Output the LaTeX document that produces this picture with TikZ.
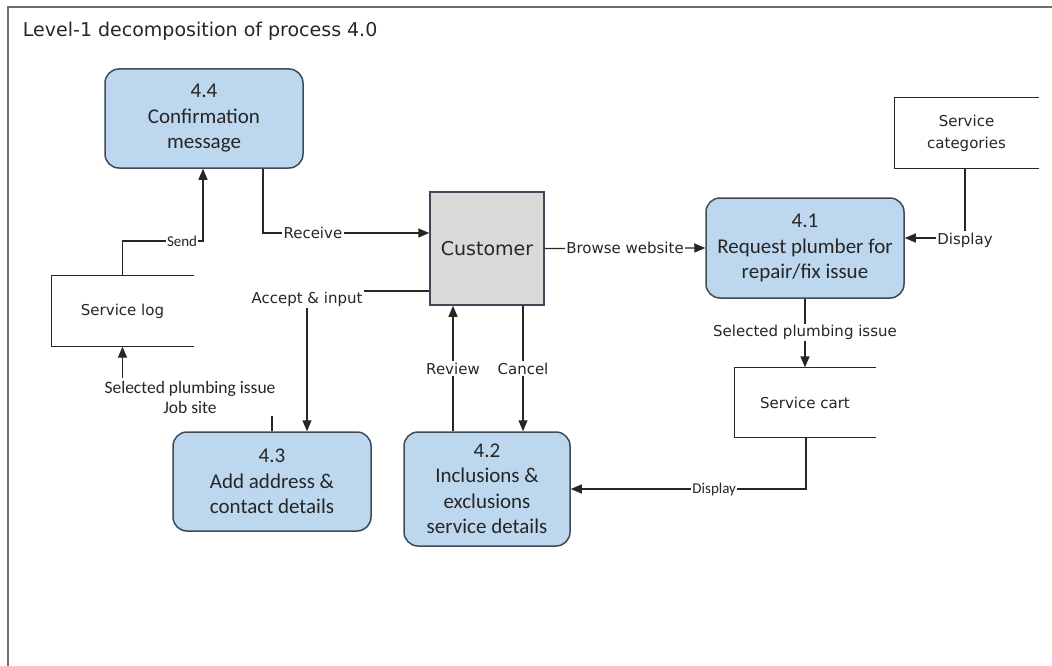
\documentclass[tikz,border=0pt]{standalone}
\usepackage{fontspec}
\setmainfont{DejaVu Sans}
\newfontfamily\calib{Carlito}
\usetikzlibrary{arrows.meta}

\definecolor{procfill}{HTML}{BDD7EE}
\definecolor{procline}{HTML}{3E4A56}
\definecolor{custfill}{HTML}{D9D9D9}
\definecolor{ink}{HTML}{262626}
\definecolor{framecol}{HTML}{6E6E6E}

\begin{document}
\begin{tikzpicture}[x=1pt, y=-1pt, line width=1.3pt, draw=ink, text=ink,
  proc/.style = {draw=procline, fill=procfill, rounded corners=14pt, align=center, line width=1.5pt,
    font=\calib\fontsize{21}{25.5}\selectfont, minimum width=198pt, minimum height=99pt, inner sep=0pt},
  ext/.style = {draw=procline, fill=custfill, font=\fontsize{19}{21}\selectfont, line width=1.5pt,
    minimum width=114pt, minimum height=113pt, inner sep=0pt},
  store/.style = {align=center, font=\fontsize{15}{22}\selectfont, inner sep=0pt},
  flow/.style = {-{Triangle[length=11pt,width=9pt]}, draw=ink},
  lbl/.style = {fill=white, inner sep=1.5pt, font=\fontsize{15}{18}\selectfont},
  smalllbl/.style = {fill=white, inner sep=1pt, font=\calib\fontsize{15}{18}\selectfont}]
    \useasboundingbox (0,0) rectangle (1052,666);
    % outer frame and heading
    \draw[framecol, line width=1.6pt] (8,666) -- (8,7) -- (1052,7);
    \node[anchor=base west, font=\fontsize{19}{22}\selectfont] (title) at (19,37) {Level-1 decomposition of process 4.0};

    % processes and customer
    \node[proc] (p44) at (204,118.5) {4.4\\Confirmation\\message};
    \node[proc, minimum height=100pt] (p41) at (805,248) {4.1\\Request plumber for\\repair/fix issue};
    \node[proc] (p43) at (272,481.5) {4.3\\Add address \&\\contact details};
    \node[proc, minimum width=166pt, minimum height=114pt] (p42) at (487,489) {4.2\\Inclusions \&\\exclusions\\service details};
    \node[ext] (cust) at (487,248.5) {Customer};

    % data stores (open on the right)
    \node[store, minimum width=141pt, minimum height=70pt] (slog) at (122.5,311) {Service log};
    \node[store, minimum width=143pt, minimum height=70pt] (scat) at (966.5,133) {Service\\categories};
    \node[store, minimum width=140pt, minimum height=69pt] (scart) at (805,402.5) {Service cart};
    \foreach \s in {slog, scat, scart}
        \draw (\s.north east) -- (\s.north west) -- (\s.south west) -- (\s.south east);

    % bends of the flows
    \coordinate (sendturn) at (203,241);
    \coordinate (rcv) at (263,233);
    \coordinate (acc) at (307,291);
    \coordinate (dsp) at (965,238);
    \coordinate (dsp2) at (806,489);
    \coordinate (rev) at (453,368);
    \coordinate (cnc) at (523,368);
    \coordinate (job) at (272,396);

    % flows
    \draw[flow] (slog.north) |- node[smalllbl, pos=0.87] {Send} (sendturn) -- (sendturn |- p44.south);
    \draw[flow] (rcv |- p44.south) -- (rcv) -- node[lbl, pos=0.3] {Receive} (rcv -| cust.west);
    \draw[flow] (acc -| cust.west) -- (acc) -- (acc |- p43.north);
    \node[lbl] (acclbl) at (307,299) {Accept \& input};
    \draw[flow] (cust.east) -- node[lbl] {Browse website} (p41.west);
    \draw[flow] (scat.south -| dsp) -- (dsp) -- (dsp -| p41.east);
    \node[lbl] (dsplbl) at (965,240) {Display};
    \draw[flow] (p41.south) -- node[lbl, pos=0.49] {Selected plumbing issue} (scart.north);
    \draw[flow] (scart.south -| dsp2) -- (dsp2) -- node[smalllbl, pos=0.39] {Display} (dsp2 -| p42.east);
    \draw[flow] (rev |- p42.north) -- node[lbl] {Review} (rev |- cust.south);
    \draw[flow] (cnc |- cust.south) -- node[lbl] {Cancel} (cnc |- p42.north);
    \draw[flow] (job |- p43.north) -- (job) -- (job -| slog.south) -- (slog.south);
    \node[smalllbl, align=center, inner sep=3pt, font=\calib\fontsize{17.5}{20}\selectfont] (joblbl) at (190,397) {Selected plumbing issue\\Job site};
\end{tikzpicture}
\end{document}
